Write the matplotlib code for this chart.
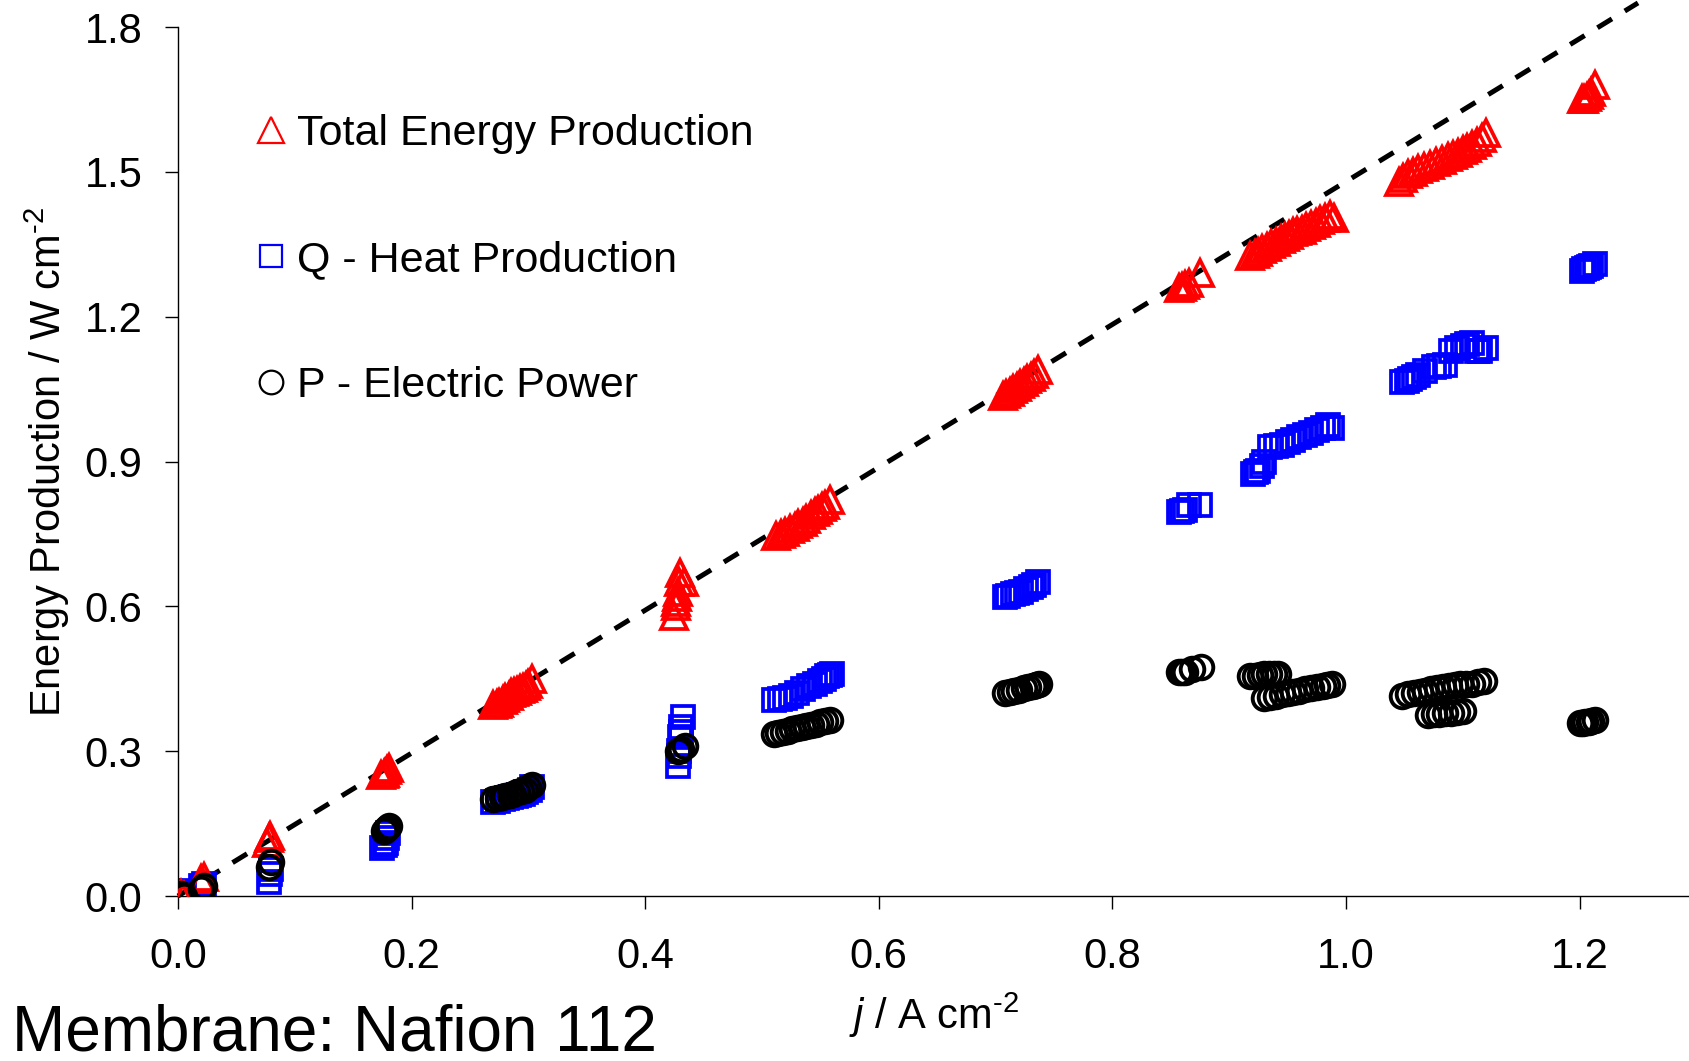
import matplotlib
matplotlib.use("Agg")
import matplotlib.pyplot as plt

plt.rcParams['font.family'] = ['Liberation Sans', 'DejaVu Sans']
plt.rcParams['mathtext.fontset'] = 'custom'
plt.rcParams['mathtext.rm'] = 'Liberation Sans'
plt.rcParams['mathtext.it'] = 'Liberation Sans:italic'
plt.rcParams['axes.unicode_minus'] = False

# current density j (A cm-2) and total energy production (W cm-2)
j_total = [0.003, 0.005, 0.020, 0.022, 0.076, 0.078, 0.079,
           0.174, 0.176, 0.177, 0.179, 0.181,
           0.270, 0.273, 0.275, 0.278, 0.280, 0.283, 0.285, 0.288, 0.290, 0.293,
           0.295, 0.298, 0.300, 0.303,
           0.425, 0.426, 0.426, 0.427, 0.428, 0.429, 0.430, 0.433,
           0.512, 0.516, 0.520, 0.524, 0.528, 0.531, 0.535, 0.538, 0.542, 0.545,
           0.548, 0.551, 0.554, 0.558,
           0.706, 0.709, 0.712, 0.715, 0.718, 0.721, 0.724, 0.727, 0.730, 0.733, 0.736,
           0.857, 0.860, 0.862, 0.866, 0.875,
           0.918, 0.922, 0.925, 0.928, 0.932, 0.936, 0.940, 0.944, 0.948, 0.951,
           0.955, 0.958, 0.962, 0.966, 0.970, 0.974, 0.978, 0.982, 0.986, 0.990,
           1.045, 1.049, 1.053, 1.057, 1.062, 1.067, 1.072, 1.077, 1.082, 1.087,
           1.092, 1.096, 1.100, 1.104, 1.108, 1.112, 1.116, 1.120,
           1.202, 1.204, 1.206, 1.208, 1.210, 1.213]
e_total = [0.005, 0.000, 0.035, 0.040, 0.110, 0.120, 0.125,
           0.250, 0.252, 0.255, 0.260, 0.265,
           0.395, 0.398, 0.400, 0.405, 0.410, 0.415, 0.420, 0.422, 0.425, 0.428,
           0.430, 0.435, 0.440, 0.450,
           0.580, 0.600, 0.610, 0.620, 0.630, 0.650, 0.670, 0.650,
           0.745, 0.750, 0.755, 0.760, 0.765, 0.770, 0.775, 0.782, 0.790, 0.795,
           0.800, 0.805, 0.810, 0.820,
           1.035, 1.040, 1.045, 1.050, 1.055, 1.060, 1.065, 1.070, 1.075, 1.082, 1.090,
           1.260, 1.262, 1.265, 1.270, 1.290,
           1.325, 1.330, 1.335, 1.340, 1.345, 1.350, 1.355, 1.360, 1.365, 1.370,
           1.375, 1.377, 1.380, 1.385, 1.390, 1.395, 1.400, 1.405, 1.410, 1.405,
           1.480, 1.488, 1.495, 1.500, 1.505, 1.510, 1.515, 1.520, 1.525, 1.530,
           1.535, 1.540, 1.545, 1.550, 1.555, 1.562, 1.570, 1.580,
           1.650, 1.652, 1.655, 1.660, 1.665, 1.680]

# Q - heat production
j_heat = [0.003, 0.005, 0.020, 0.022, 0.078, 0.079, 0.080,
          0.175, 0.177, 0.178, 0.179, 0.180,
          0.270, 0.274, 0.278, 0.282, 0.285, 0.289, 0.292, 0.295, 0.298, 0.301, 0.303,
          0.428, 0.429, 0.429, 0.430, 0.431, 0.431, 0.432,
          0.510, 0.515, 0.520, 0.525, 0.530, 0.535, 0.540, 0.545, 0.550, 0.553,
          0.556, 0.558, 0.560,
          0.708, 0.711, 0.715, 0.718, 0.722, 0.726, 0.730, 0.733, 0.736,
          0.857, 0.860, 0.862, 0.866, 0.875,
          0.920, 0.923, 0.925, 0.928, 0.930, 0.935, 0.940, 0.945, 0.950, 0.955,
          0.960, 0.965, 0.970, 0.975, 0.980, 0.985, 0.988,
          1.048, 1.052, 1.055, 1.058, 1.062, 1.068, 1.075, 1.080, 1.085, 1.090,
          1.095, 1.100, 1.104, 1.108, 1.112, 1.115, 1.120,
          1.202, 1.204, 1.206, 1.208, 1.210, 1.213]
q_heat = [0.010, 0.005, 0.020, 0.025, 0.030, 0.045, 0.055,
          0.100, 0.105, 0.110, 0.120, 0.130,
          0.195, 0.197, 0.200, 0.203, 0.205, 0.208, 0.210, 0.212, 0.215, 0.220, 0.225,
          0.270, 0.290, 0.300, 0.330, 0.340, 0.350, 0.370,
          0.405, 0.408, 0.410, 0.415, 0.420, 0.428, 0.435, 0.440, 0.445, 0.450,
          0.455, 0.458, 0.460,
          0.620, 0.622, 0.625, 0.628, 0.630, 0.635, 0.640, 0.645, 0.650,
          0.795, 0.798, 0.800, 0.810, 0.810,
          0.875, 0.878, 0.880, 0.890, 0.900, 0.930, 0.932, 0.935, 0.940, 0.945,
          0.950, 0.955, 0.960, 0.965, 0.970, 0.975, 0.970,
          1.065, 1.067, 1.070, 1.075, 1.080, 1.088, 1.095, 1.098, 1.100, 1.130,
          1.135, 1.140, 1.143, 1.145, 1.130, 1.130, 1.135,
          1.295, 1.298, 1.300, 1.302, 1.305, 1.310]

# P - electric power
j_power = [0.003, 0.005, 0.020, 0.022, 0.078, 0.080,
           0.176, 0.178, 0.179, 0.181,
           0.270, 0.274, 0.277, 0.280, 0.284, 0.287, 0.290, 0.294, 0.297, 0.300, 0.303,
           0.428, 0.430, 0.431, 0.434,
           0.510, 0.514, 0.518, 0.522, 0.526, 0.530, 0.534, 0.538, 0.542, 0.546,
           0.550, 0.554, 0.558,
           0.708, 0.712, 0.716, 0.720, 0.724, 0.728, 0.732, 0.735, 0.737,
           0.857, 0.860, 0.862, 0.868, 0.876,
           0.918, 0.922, 0.926, 0.930, 0.934, 0.938, 0.942,
           0.930, 0.935, 0.940, 0.945, 0.950, 0.955, 0.960, 0.965, 0.970, 0.975,
           0.980, 0.984, 0.988,
           1.048, 1.053, 1.058, 1.063, 1.068, 1.073, 1.078, 1.083, 1.088, 1.093,
           1.098, 1.103, 1.108, 1.113, 1.118,
           1.070, 1.075, 1.080, 1.085, 1.090, 1.095, 1.100,
           1.200, 1.203, 1.205, 1.208, 1.210, 1.213]
p_power = [0.005, 0.000, 0.015, 0.020, 0.060, 0.070,
           0.135, 0.138, 0.140, 0.145,
           0.200, 0.202, 0.205, 0.208, 0.210, 0.212, 0.215, 0.218, 0.220, 0.225, 0.230,
           0.300, 0.302, 0.305, 0.310,
           0.335, 0.337, 0.340, 0.342, 0.345, 0.347, 0.350, 0.352, 0.355, 0.357,
           0.360, 0.362, 0.365,
           0.420, 0.422, 0.425, 0.427, 0.430, 0.432, 0.435, 0.437, 0.440,
           0.465, 0.465, 0.465, 0.470, 0.475,
           0.455, 0.456, 0.458, 0.459, 0.460, 0.460, 0.460,
           0.410, 0.412, 0.415, 0.418, 0.420, 0.422, 0.425, 0.428, 0.430, 0.432,
           0.435, 0.438, 0.440,
           0.415, 0.418, 0.420, 0.422, 0.425, 0.428, 0.430, 0.432, 0.435, 0.438,
           0.440, 0.440, 0.440, 0.443, 0.445,
           0.375, 0.376, 0.378, 0.379, 0.380, 0.382, 0.383,
           0.358, 0.359, 0.360, 0.361, 0.362, 0.365]

# thermoneutral line, slope 1.48 V
slope_tn = 1.48
j_line = [0.0, 1.25]

fig = plt.figure(figsize=(16.9, 10.61), dpi=100)
ax = fig.add_axes([0.1053, 0.1555, 0.8947, 0.819])

ax.plot(j_line, [slope_tn * j for j in j_line], color="black", lw=3.6,
        dashes=(3.4, 3.0), clip_on=False, zorder=1)

ax.plot(j_total, e_total, linestyle="none", marker="^", ms=19, mfc="none",
        mec="red", mew=2.7, label="Total Energy Production", zorder=3)
ax.plot(j_heat, q_heat, linestyle="none", marker="s", ms=16.5, mfc="none",
        mec="blue", mew=2.7, label="Q - Heat Production", zorder=2)
ax.plot(j_power, p_power, linestyle="none", marker="o", ms=17, mfc="none",
        mec="black", mew=2.8, label="P - Electric Power", zorder=4)

ax.set_xlim(0, 1.2945)
ax.set_ylim(0, 1.8)
ax.set_xticks([0.0, 0.2, 0.4, 0.6, 0.8, 1.0, 1.2])
ax.set_yticks([0.0, 0.3, 0.6, 0.9, 1.2, 1.5, 1.8])
ax.xaxis.set_major_formatter(matplotlib.ticker.FormatStrFormatter('%.1f'))
ax.yaxis.set_major_formatter(matplotlib.ticker.FormatStrFormatter('%.1f'))

for s in ["top", "right"]:
    ax.spines[s].set_visible(False)
for s in ["left", "bottom"]:
    ax.spines[s].set_linewidth(1.0)
ax.tick_params(direction="out", length=9.5, width=1.0, labelsize=30)
ax.tick_params(axis="y", pad=16)
ax.tick_params(axis="x", pad=20)

ax.set_xlabel(r"$j$ / A cm$^{\text{-2}}$", fontsize=30, labelpad=10)
ax.set_ylabel(r"Energy Production / W cm$^{\text{-2}}$", fontsize=30, labelpad=9)

leg = ax.legend(loc="upper left", bbox_to_anchor=(0.04, 0.92), frameon=False,
                fontsize=31, handlelength=0.7, handletextpad=0.25,
                labelspacing=2.0, markerscale=1.0, borderaxespad=0)
for h in leg.legend_handles:
    h.set_markeredgewidth(1.6)

fig.text(0.007, 0.01, "Membrane: Nafion 112", fontsize=46, ha="left", va="baseline")

fig.savefig("out.png", dpi=100)
